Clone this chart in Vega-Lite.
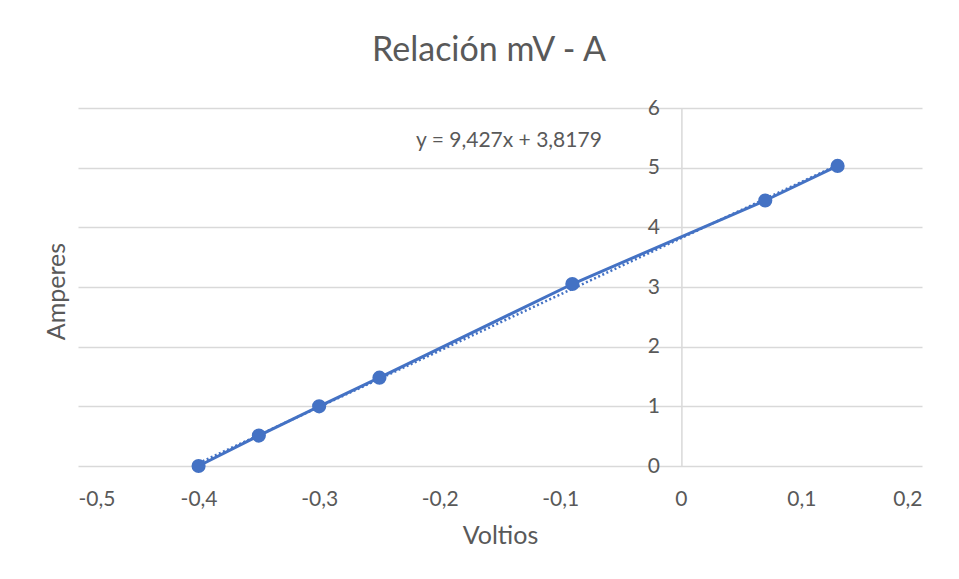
{
  "$schema": "https://vega.github.io/schema/vega-lite/v6.json",
  "width": 844,
  "height": 358,
  "autosize": "none",
  "padding": {"left": 78, "top": 108, "right": 37, "bottom": 113},
  "background": "white",
  "config": {
    "view": {"stroke": null},
    "font": "Lato",
    "axis": {"labelFont": "Lato", "titleFont": "Lato", "labelColor": "#595959", "titleColor": "#595959", "titleFontWeight": "normal"}
  },
  "title": {
    "text": "Relación mV - A",
    "font": "Lato",
    "fontSize": 34,
    "fontWeight": "normal",
    "color": "#595959",
    "anchor": "middle",
    "frame": "group",
    "baseline": "alphabetic",
    "offset": 2,
    "dx": -11
  },
  "datasets": {
    "pts": [
      {"V": -0.4, "A": 0},
      {"V": -0.35, "A": 0.51},
      {"V": -0.3, "A": 1.0},
      {"V": -0.25, "A": 1.48},
      {"V": -0.09, "A": 3.05},
      {"V": 0.07, "A": 4.45},
      {"V": 0.13, "A": 5.03}
    ],
    "trend": [
      {"V": -0.4, "A": 0.0471},
      {"V": 0.13, "A": 5.0434}
    ],
    "eq": [
      {"V": -0.1426, "A": 5.44, "label": "y = 9,427x + 3,8179"}
    ]
  },
  "layer": [
    {
      "data": {"name": "trend"},
      "mark": {"type": "line", "color": "#4472C4", "strokeWidth": 2.5, "strokeDash": [2, 2.5]},
      "encoding": {
        "x": {
          "field": "V", "type": "quantitative",
          "scale": {"domain": [-0.5, 0.2], "nice": false, "zero": false},
          "axis": {
            "title": "Voltios",
            "titleFontSize": 25,
            "titlePadding": 14,
            "values": [-0.5, -0.4, -0.3, -0.2, -0.1, 0, 0.1, 0.2],
            "labelExpr": "replace(toString(datum.value), '.', ',')",
            "labelFontSize": 21,
            "labelPadding": 22,
            "tickSize": 0,
            "ticks": false,
            "domain": false,
            "grid": false
          }
        },
        "y": {
          "field": "A", "type": "quantitative",
          "scale": {"domain": [0, 6], "nice": false},
          "axis": {
            "orient": "left",
            "title": "Amperes",
            "titleFontSize": 25,
            "titleX": -22,
            "titleY": 183,
            "titleAngle": -90,
            "titleAlign": "center",
            "titleBaseline": "middle",
            "labels": false,
            "ticks": false,
            "domain": false,
            "grid": true,
            "gridColor": "#d9d9d9",
            "gridWidth": 1.5,
            "values": [0, 1, 2, 3, 4, 5, 6]
          }
        }
      }
    },
    {
      "data": {"name": "pts"},
      "mark": {"type": "line", "color": "#4472C4", "strokeWidth": 3, "point": {"filled": true, "size": 200, "color": "#4472C4", "opacity": 1}},
      "encoding": {
        "x": {"field": "V", "type": "quantitative"},
        "y": {
          "field": "A", "type": "quantitative",
          "axis": {
            "orient": "left",
            "title": null,
            "offset": -603.4,
            "labels": true,
            "labelFontSize": 21,
            "labelPadding": 22,
            "ticks": false,
            "tickSize": 0,
            "domain": true,
            "domainColor": "#d9d9d9",
            "domainWidth": 1.5,
            "grid": false,
            "values": [0, 1, 2, 3, 4, 5, 6]
          }
        }
      }
    },
    {
      "data": {"name": "eq"},
      "mark": {"type": "text", "font": "Lato", "fontSize": 21, "color": "#595959", "align": "center", "baseline": "middle"},
      "encoding": {
        "x": {"field": "V", "type": "quantitative"},
        "y": {"field": "A", "type": "quantitative", "axis": null},
        "text": {"field": "label"}
      }
    }
  ],
  "resolve": {"axis": {"y": "independent"}}
}
